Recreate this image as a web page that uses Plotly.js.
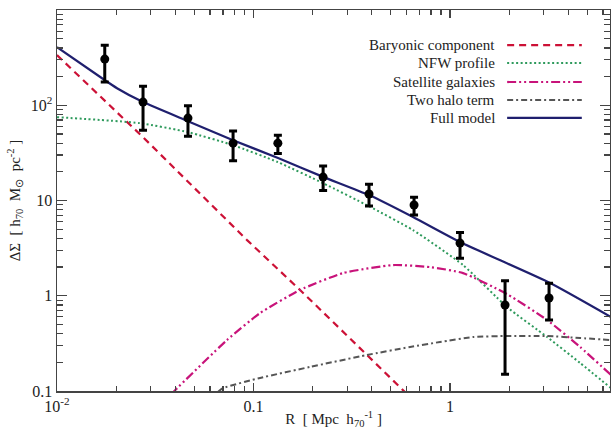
<!DOCTYPE html>
<html><head><meta charset="utf-8">
<script src="https://cdn.plot.ly/plotly-3.0.1.min.js"></script>
<style>html,body{margin:0;padding:0;background:#fff}#chart{width:611px;height:429px}</style>
</head><body><div id="chart"></div>
<script>
// Measured data points (R in Mpc/h70, DeltaSigma in h70 Msun pc^-2)
const obsR    = [0.0175, 0.0274, 0.0464, 0.0787, 0.133, 0.226, 0.387, 0.656, 1.124, 1.905, 3.19];
const obsVal  = [305, 108, 73.3, 40.0, 40.0, 17.6, 11.7, 8.96, 3.57, 0.80, 0.946];
const obsHigh = [427, 158.5, 98.6, 53.8, 48.5, 23.0, 14.8, 10.8, 4.62, 1.44, 1.35];
const obsLow  = [175, 54.8, 47.4, 26.1, 31.2, 12.7, 8.73, 7.03, 2.47, 0.150, 0.556];

// Model components
const baryR   = [0.01, 0.0274, 0.0927, 0.1725, 0.378, 0.577, 0.65];
const baryVal = [336, 46.2, 3.84, 1.15, 0.239, 0.102, 0.080];

const nfwR    = [0.01, 0.0264, 0.0464, 0.0787, 0.133, 0.226, 0.387, 0.648, 1.165, 1.95, 3.12, 4.59, 6.6];
const nfwVal  = [75.0, 64.9, 52.2, 38.1, 25.3, 15.2, 8.7, 4.89, 2.10, 0.76, 0.369, 0.197, 0.107];

const satR    = [0.038, 0.0399, 0.0733, 0.108, 0.1725, 0.285, 0.513, 0.791, 1.165, 1.95, 3.12, 4.59, 6.6];
const satVal  = [0.092, 0.102, 0.343, 0.658, 1.15, 1.73, 2.10, 2.00, 1.73, 1.04, 0.556, 0.290, 0.147];

const twoR    = [0.066, 0.0698, 0.108, 0.194, 0.378, 0.626, 0.889, 1.31, 1.95, 3.12, 4.59, 6.6];
const twoVal  = [0.098, 0.107, 0.137, 0.179, 0.239, 0.290, 0.327, 0.369, 0.378, 0.378, 0.360, 0.343];

const fullR   = [0.01, 0.01754, 0.0202, 0.0274, 0.0464, 0.0787, 0.1333, 0.226, 0.387, 0.648, 1.124, 3.23, 6.6];
const fullVal = [407, 183, 151, 108, 68.1, 43.0, 27.9, 17.7, 11.4, 6.70, 3.66, 1.36, 0.597];

const legendNames = ["Baryonic component", "NFW profile", "Satellite galaxies", "Two halo term", "Full model"];

const xTickVals = [0.01, 0.1, 1];
const xTickText = ["10<sup>-2</sup>", "0.1", "1"];
const yTickVals = [0.1, 1, 10, 100, 1000];
const yTickText = ["0.1", "1", "10", "10<sup>2</sup>", "10<sup>3</sup>"];
const xMinor = [0.02,0.03,0.04,0.05,0.06,0.07,0.08,0.09,0.2,0.3,0.4,0.5,0.6,0.7,0.8,0.9,2,3,4,5,6];
const yMinor = [0.2,0.3,0.4,0.5,0.6,0.7,0.8,0.9,2,3,4,5,6,7,8,9,20,30,40,50,60,70,80,90,200,300,400,500,600,700,800,900];

const styles = [
  {color:'#cc1136', dash:'7px,5px', width:2.2, shape:'linear'},
  {color:'#2e9a5c', dash:'2px,2.5px', width:2, shape:'spline'},
  {color:'#c8137a', dash:'9px,3px,2px,3px,2px,3px', width:2.2, shape:'spline'},
  {color:'#555555', dash:'6px,3px,2px,3px', width:2, shape:'spline'},
  {color:'#1f1f6e', dash:'solid', width:2.2, shape:'spline'}
];
const series = [[baryR, baryVal],[nfwR, nfwVal],[satR, satVal],[twoR, twoVal],[fullR, fullVal]];

const traces = series.map((s,i)=>({
  x:s[0], y:s[1], type:'scatter', mode:'lines', name:legendNames[i],
  line:{color:styles[i].color, dash:styles[i].dash, width:styles[i].width, shape:styles[i].shape, smoothing:0.5},
  showlegend:false, hoverinfo:'skip'
}));
traces.push({
  x:obsR, y:obsVal, type:'scatter', mode:'markers', showlegend:false,
  marker:{color:'#000', size:9},
  error_y:{type:'data', symmetric:false,
    array: obsHigh.map((h,i)=>h-obsVal[i]),
    arrayminus: obsLow.map((l,i)=>obsVal[i]-l),
    color:'#000', thickness:3, width:4}
});

const font = '"Liberation Serif", "Times New Roman", serif';
const rowY = [0.908, 0.861, 0.811, 0.764, 0.717];
const shapes = [], annotations = [];
legendNames.forEach((n,i)=>{
  annotations.push({xref:'paper', yref:'paper', x:0.7957, y:rowY[i], xanchor:'right', yanchor:'middle',
    text:n, showarrow:false, font:{family:font, size:15, color:'#222'}});
  shapes.push({type:'line', xref:'paper', yref:'paper', x0:0.814, x1:0.949, y0:rowY[i], y1:rowY[i],
    line:{color:styles[i].color, dash:styles[i].dash, width:styles[i].width}});
});

const axisCommon = {
  type:'log', showgrid:false, zeroline:false, showline:true, linecolor:'#444', linewidth:1.5,
  mirror:'allticks', ticks:'inside', tickcolor:'#444', tickwidth:1.3,
  tickfont:{family:font, size:16, color:'#222'}
};
const layout = {
  width:611, height:429,
  margin:{l:57, r:1, t:10, b:38},
  paper_bgcolor:'#fff', plot_bgcolor:'#fff',
  xaxis: Object.assign({}, axisCommon, {
    range:[-2, 0.814], tickmode:'array', tickvals:xTickVals, ticktext:xTickText, ticklen:8,
    minor:{tickmode:'array', tickvals:xMinor, ticks:'inside', ticklen:5, tickcolor:'#444', tickwidth:1.2},
    title:{text:'R  [ Mpc  h<sub>70</sub><sup>-1</sup> ]', font:{family:font, size:15, color:'#222'}, standoff:4}
  }),
  yaxis: Object.assign({}, axisCommon, {
    range:[-1, 3], tickmode:'array', tickvals:yTickVals, ticktext:yTickText, ticklen:10,
    minor:{tickmode:'array', tickvals:yMinor, ticks:'inside', ticklen:6, tickcolor:'#444', tickwidth:1.2},
    title:{text:'ΔΣ  [ h<sub>70</sub>  M<sub>⊙</sub>  pc<sup>-2</sup> ]', font:{family:font, size:15, color:'#222'}, standoff:6}
  }),
  shapes:shapes, annotations:annotations, showlegend:false
};
Plotly.newPlot('chart', traces, layout, {staticPlot:true, displayModeBar:false});
</script>
</body></html>
